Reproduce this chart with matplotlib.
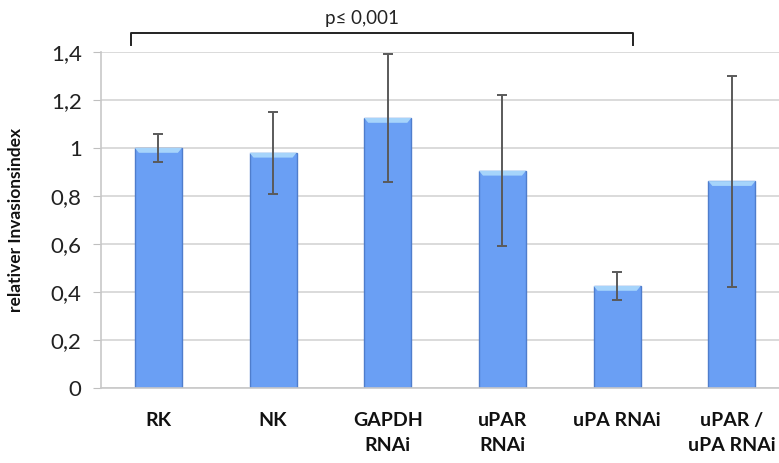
import matplotlib
matplotlib.use("Agg")
import matplotlib.pyplot as plt
from matplotlib.patches import Polygon

categories = ["RK", "NK", "GAPDH\nRNAi", "uPAR\nRNAi", "uPA RNAi", "uPAR /\nuPA RNAi"]
values = [1.0, 0.98, 1.125, 0.905, 0.425, 0.862]
errors = [0.06, 0.17, 0.265, 0.315, 0.057, 0.44]
yticks = [0, 0.2, 0.4, 0.6, 0.8, 1.0, 1.2, 1.4]
ytick_labels = ["0", "0,2", "0,4", "0,6", "0,8", "1", "1,2", "1,4"]
p_text = "p\u2264 0,001"


def plot_invasion():
    plt.rcParams["font.family"] = ["Lato", "DejaVu Sans"]
    fig = plt.figure(figsize=(7.79, 4.63), dpi=100)
    ax = fig.add_axes([0.1297, 0.162, 0.8834, 0.7257])

    x = list(range(len(categories)))
    bars = ax.bar(x, values, width=0.41, color="#6a9ff4", edgecolor="#4f7dcc",
                  linewidth=1.0, zorder=2)
    ax.errorbar(x, values, yerr=errors, fmt="none", ecolor="#5a5a5a",
                elinewidth=1.4, capsize=3.5, capthick=1.4, zorder=3)

    # light bevel on top of each bar
    for b in bars:
        x0, w, h = b.get_x(), b.get_width(), b.get_height()
        bevel = Polygon([(x0, h), (x0 + w, h), (x0 + w - 0.035, h - 0.02),
                         (x0 + 0.035, h - 0.02)], closed=True,
                        facecolor="#a6d4fb", edgecolor="none", zorder=2.5)
        ax.add_patch(bevel)

    ax.set_xlim(-0.5, len(categories) - 0.5)
    ax.set_ylim(0, 1.4)
    ax.set_yticks(yticks)
    ax.set_yticklabels(ytick_labels, fontsize=16, color="#222222")
    ax.set_xticks(x)
    ax.set_xticklabels(categories, fontsize=14, fontweight="bold", color="#111111",
                       linespacing=1.6, va="top")
    ax.tick_params(axis="x", length=0, pad=17)
    ax.tick_params(axis="y", length=6, color="#bfbfbf", pad=8)
    ax.grid(axis="y", color="#d4d4d4", linewidth=1.2, zorder=0)
    ax.set_axisbelow(True)
    for side in ["top", "right"]:
        ax.spines[side].set_visible(False)
    ax.spines["left"].set_color("#c8c8c8")
    ax.spines["bottom"].set_color("#c8c8c8")
    ax.spines["left"].set_linewidth(1.2)
    ax.spines["bottom"].set_linewidth(1.2)

    ax.set_ylabel("relativer Invasionsindex", fontsize=12.5, fontweight="bold",
                  color="#111111")
    ax.yaxis.set_label_coords(-0.112, 0.5)

    # significance bracket
    ax.plot([-0.24, -0.24, 4.135, 4.135], [1.43, 1.478, 1.478, 1.43],
            color="#222222", linewidth=1.4, clip_on=False)
    ax.text(1.775, 1.54, p_text, fontsize=13.5, ha="center", va="center",
            color="#222222")

    fig.savefig("out.png", dpi=100)
    plt.close(fig)


if __name__ == "__main__":
    plot_invasion()
